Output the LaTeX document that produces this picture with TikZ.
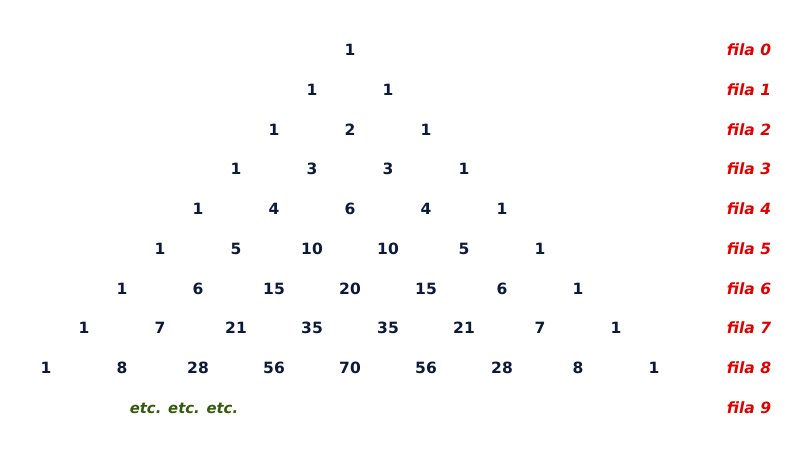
\documentclass[tikz,border=0pt]{standalone}
\usepackage{fontspec}
\setmainfont{DejaVu Sans}
\definecolor{numcol}{HTML}{0B1A3A}
\definecolor{filacol}{HTML}{E00000}
\definecolor{etccol}{HTML}{335A0A}
\begin{document}
\begin{tikzpicture}[x=1pt,y=-1pt,
  num/.style={text=numcol,font=\fontsize{15.5}{18}\selectfont\bfseries,inner sep=0pt,anchor=base},
  fila/.style={text=filacol,font=\fontsize{15.5}{18}\selectfont\bfseries\itshape,inner sep=0pt,anchor=base},
  etc/.style={text=etccol,font=\fontsize{14.8}{17}\selectfont\bfseries\itshape,inner sep=0pt,anchor=base}]
\useasboundingbox (0,0) rectangle (800,460);
\foreach \r/\vals in {0/{1},1/{1,1},2/{1,2,1},3/{1,3,3,1},4/{1,4,6,4,1},5/{1,5,10,10,5,1},6/{1,6,15,20,15,6,1},7/{1,7,21,35,35,21,7,1},8/{1,8,28,56,70,56,28,8,1}}{
  \foreach \v [count=\k from 0] in \vals {
    \node[num] (n\r-\k) at ({350-38*\r+76*\k},{55.5+39.75*\r}) {\v};
  }
}
\foreach \r in {0,...,9}{
  \node[fila] (f\r) at (749,{55.5+39.75*\r}) {fila \r};
}
\node[etc] (etc) at (184,413) {etc. etc. etc.};
\end{tikzpicture}
\end{document}
